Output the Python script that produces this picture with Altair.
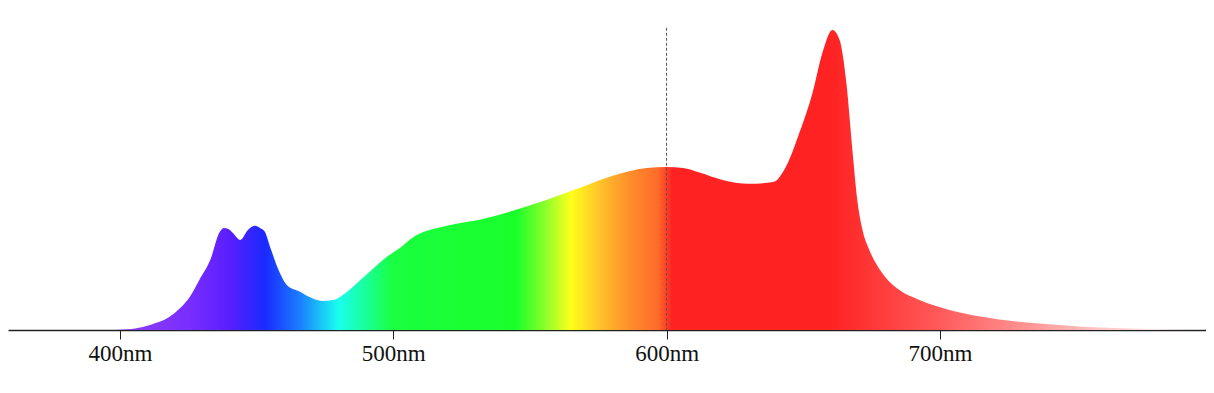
import altair as alt
import pandas as pd

# Spectrum trace (wavelength in nm, relative intensity in % of peak)
wavelength = [359, 396, 400, 405.5, 411, 418, 422, 425.5, 429, 433, 436.5, 438, 439.5, 441.3,
              444, 446.8, 449.4, 451.2, 453, 454.8, 458.5, 461, 466, 469.4, 474, 478, 483, 490,
              497.5, 502.4, 507, 519.6, 531.6, 543.7, 556, 568, 580, 592.7, 600, 606, 612, 620.5,
              630, 639, 644, 648.6, 653.4, 657, 660.7, 663.3, 665.8, 668, 669.8, 671.7, 674.2,
              678.9, 685.2, 692.5, 703.5, 715.5, 728, 740, 752, 764.5, 776.6, 791, 797.4]
intensity = [0, 0, 0.1, 0.5, 1.7, 4.3, 7.3, 11, 16.7, 23.3, 32.7, 34, 33.7, 32.3,
             30, 33.3, 34.7, 34, 32.7, 28, 19, 15, 12.7, 11, 9.7, 10, 12.7, 18.3,
             24.3, 27.3, 30.7, 34.7, 36.7, 39.7, 43.3, 47.3, 51.3, 54, 54.3, 54, 52.5, 50,
             48.7, 49.3, 55, 65.7, 79, 92.3, 100, 96.7, 82.3, 60, 43.3, 33.3, 26.7,
             19, 13.3, 10, 6.7, 4.4, 2.8, 1.9, 1.1, 0.7, 0.33, 0.05, 0]
tick_values = [400, 500, 600, 700]
marker_nm = [600]

# Colour stops along wavelength
stop_nm = [359, 405, 425, 440, 453, 466, 480, 491, 500, 545, 556, 565, 576, 586, 597, 602, 660, 700, 722, 758, 797.4]
stop_col = ["#9848f2", "#8a3cf5", "#7a2eff", "#5a1eff", "#1a2aff", "#1a80ff", "#1affee", "#1aff90",
            "#1aff40", "#1aff2a", "#90ff2a", "#ffff1a", "#ffc02a", "#ff902a", "#ff6a2a", "#ff2222",
            "#ff2222", "#ff5a5a", "#ff8282", "#ffc4c4", "#ffffff"]

x_min, x_max = 359, 797.4
y_max = 107.3

df = pd.DataFrame({"wl": wavelength, "val": intensity})
rule_df = pd.DataFrame({"wl": marker_nm, "top": [100.7], "bot": [0]})

grad = alt.Gradient(
    gradient="linear",
    stops=[alt.GradientStop(color=c, offset=(w - x_min) / (x_max - x_min)) for w, c in zip(stop_nm, stop_col)],
    x1=0, x2=1, y1=0, y2=0,
)

xscale = alt.Scale(domain=[x_min, x_max], nice=False, zero=False)
yscale = alt.Scale(domain=[0, y_max], nice=False)

area = alt.Chart(df).mark_area(fill=grad, interpolate="monotone", strokeWidth=0).encode(
    x=alt.X("wl:Q", scale=xscale,
            axis=alt.Axis(values=tick_values, labelExpr="datum.value + 'nm'", title=None, grid=False,
                          domainColor="#222222", domainWidth=1.5, tickColor="#222222", tickSize=9,
                          labelFont="Liberation Serif", labelFontSize=23, labelColor="#111111",
                          labelPadding=3)),
    y=alt.Y("val:Q", scale=yscale, axis=None),
)

rule = alt.Chart(rule_df).mark_rule(color="#555555", strokeDash=[3, 2], strokeWidth=1).encode(
    x=alt.X("wl:Q", scale=xscale),
    y=alt.Y("top:Q", scale=yscale),
    y2="bot:Q",
)

chart = alt.layer(area, rule).properties(
    width=1198, height=322, padding={"left": 0, "top": 0, "right": 0, "bottom": 0}
).configure_view(stroke=None)

chart.save("out.html", embed_options={"renderer": "svg", "actions": False})
